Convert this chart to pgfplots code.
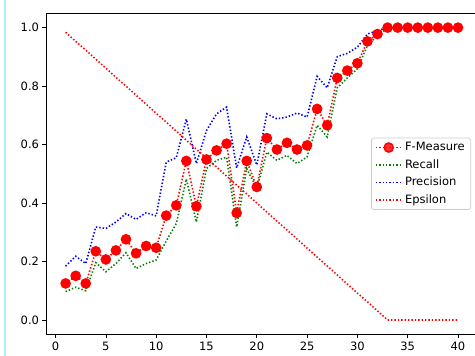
\documentclass[border=0pt]{standalone}
\usepackage{pgfplots}
\pgfplotsset{compat=1.18}
\usepackage{pgfplotstable}
\usepackage{fontspec}
\setmainfont{DejaVu Sans}
\definecolor{mplred}{RGB}{255,0,0}
\definecolor{mplgreen}{RGB}{0,128,0}
\definecolor{mplblue}{RGB}{0,0,255}
\definecolor{legedge}{RGB}{204,204,204}
\definecolor{edgecyan}{RGB}{175,236,245}
\newcommand{\lblfont}{\fontsize{11.5bp}{13.8bp}\selectfont}

\pgfplotstableread{
x f r p e
1 0.125 0.097 0.184 0.984
2 0.151 0.112 0.218 0.953
3 0.125 0.100 0.193 0.923
4 0.235 0.196 0.318 0.892
5 0.207 0.165 0.313 0.861
6 0.238 0.193 0.335 0.830
7 0.276 0.230 0.364 0.800
8 0.228 0.176 0.344 0.769
9 0.253 0.193 0.367 0.738
10 0.247 0.205 0.356 0.707
11 0.357 0.270 0.540 0.677
12 0.392 0.330 0.555 0.646
13 0.544 0.482 0.687 0.615
14 0.389 0.335 0.535 0.584
15 0.549 0.518 0.648 0.554
16 0.580 0.546 0.705 0.523
17 0.603 0.557 0.728 0.492
18 0.366 0.318 0.520 0.461
19 0.544 0.518 0.626 0.431
20 0.455 0.450 0.530 0.400
21 0.622 0.574 0.705 0.369
22 0.583 0.546 0.688 0.338
23 0.606 0.563 0.694 0.308
24 0.583 0.535 0.708 0.277
25 0.597 0.558 0.694 0.246
26 0.722 0.666 0.833 0.215
27 0.666 0.626 0.794 0.185
28 0.828 0.794 0.901 0.154
29 0.853 0.828 0.912 0.123
30 0.878 0.859 0.933 0.092
31 0.953 0.939 0.978 0.062
32 0.978 0.973 0.990 0.031
33 1.000 1.000 1.000 0.000
34 1.000 1.000 1.000 0.000
35 1.000 1.000 1.000 0.000
36 1.000 1.000 1.000 0.000
37 1.000 1.000 1.000 0.000
38 1.000 1.000 1.000 0.000
39 1.000 1.000 1.000 0.000
40 1.000 1.000 1.000 0.000
}\datatable

\begin{document}
\begin{tikzpicture}
\useasboundingbox (0,0) rectangle (475bp,356bp);
\draw[line width=2bp, edgecyan] (5bp,0bp) -- (5bp,356bp);
\begin{axis}[
  at={(46bp,21.4bp)}, anchor=south west,
  scale only axis, width=431.6bp, height=321.6bp,
  xmin=-0.95, xmax=41.95, ymin=-0.05, ymax=1.05,
  xtick={0,5,...,40}, ytick={0,0.2,0.4,0.6,0.8,1.0},
  y tick label style={/pgf/number format/.cd, fixed, fixed zerofill, precision=1},
  /pgf/number format/assume math mode=true,
  tick label style={font=\lblfont, black},
  tick align=outside, tick pos=left,
  major tick length=3.5bp,
  axis line style={line width=0.7bp, black},
  every tick/.style={line width=0.7bp, black},
  every axis plot/.append style={line width=1.6bp, dash pattern=on 1.4bp off 2.0bp},
  legend image code/.code={\draw[mark repeat=2,mark phase=2,#1] plot coordinates {(0bp,0bp) (13bp,0bp) (26bp,0bp)};},
  legend cell align=left,
  legend style={at={(0.9847,0.5)}, anchor=east, draw=legedge, line width=0.7bp,
    rounded corners=2.5bp, fill=white, fill opacity=0.8, text opacity=1, draw opacity=1,
    font=\lblfont, inner xsep=3.5bp, inner ysep=2bp, row sep=2.5bp,
    nodes={text height=8.5bp, text depth=2.5bp, inner ysep=2bp, inner xsep=2.5bp}},
]
\addplot[mplred, mark=*, mark size=4.5bp, mark options={solid, fill=mplred, draw=mplred}] table[x=x, y=f] {\datatable};
\addlegendentry{F-Measure}
\addplot[mplgreen] table[x=x, y=r] {\datatable};
\addlegendentry{Recall}
\addplot[mplblue] table[x=x, y=p] {\datatable};
\addlegendentry{Precision}
\addplot[mplred] table[x=x, y=e] {\datatable};
\addlegendentry{Epsilon}
\end{axis}
\end{tikzpicture}
\end{document}
